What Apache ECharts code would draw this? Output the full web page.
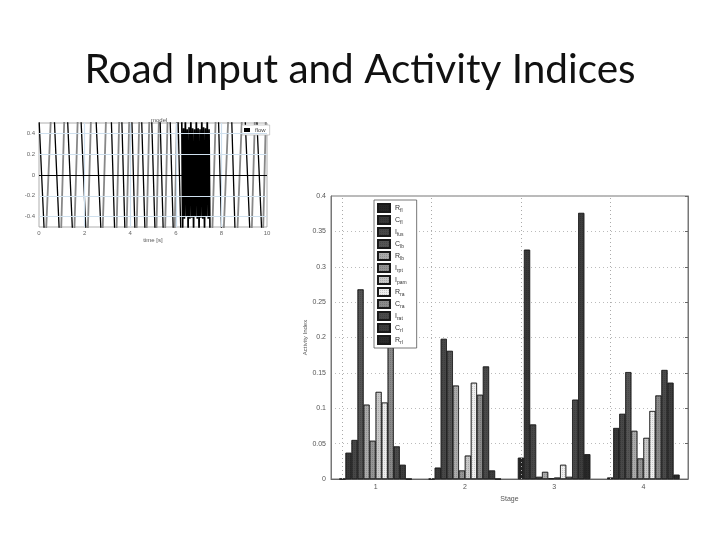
<!DOCTYPE html>
<html>
<head>
<meta charset="utf-8">
<script src="https://cdn.jsdelivr.net/npm/echarts@6/dist/echarts.min.js"></script>
<style>
html,body{margin:0;padding:0;background:#fff;}
#c{width:720px;height:540px;}
</style>
</head>
<body>
<div id="c"></div>
<script>
// ---------- Data: small "model" signal plot ----------
// descending (black) strokes: start/end times
const descStart = [0.00, 0.67, 1.25, 1.84, 2.50, 3.17, 3.63, 4.07, 4.50, 4.94, 5.31, 5.75, 6.10, 7.87, 8.45, 9.04, 9.55];
const descEnd   = [0.23, 0.89, 1.47, 2.06, 2.72, 3.32, 3.77, 4.21, 4.65, 5.09, 5.45, 5.89, 6.22, 8.01, 8.60, 9.25, 9.77];
// ascending (grey) strokes: start/end times
const ascStart  = [0.31, 0.97, 1.55, 2.14, 2.79, 3.40, 3.84, 4.28, 4.72, 5.15, 5.53, 5.95, 7.60, 8.10, 8.70, 9.33, 9.83];
const ascEnd    = [0.52, 1.11, 1.70, 2.28, 2.94, 3.52, 3.96, 4.40, 4.84, 5.26, 5.64, 6.05, 7.75, 8.30, 8.90, 9.47, 9.95];
const waveHigh = 0.55, waveLow = -0.55;
// dense high-frequency burst
const denseT = [6.26,6.30,6.34,6.38,6.42,6.46,6.50,6.54,6.58,6.62,6.66,6.70,6.74,6.78,6.82,6.86,6.90,6.94,6.98,7.02,7.06,7.10,7.14,7.18,7.22,7.26,7.30,7.34,7.38,7.42,7.46,7.50];
const denseV = [0.6,-0.6,0.45,-0.42,0.6,-0.4,0.44,-0.6,0.46,-0.42,0.6,-0.41,0.45,-0.6,0.44,-0.4,0.6,-0.42,0.45,-0.6,0.44,-0.41,0.6,-0.42,0.46,-0.6,0.45,-0.4,0.6,-0.42,0.44,-0.6];
const smallYTicks = ['-0.4','-0.2','0','0.2','0.4'];

// ---------- Data: Activity index bar chart ----------
const stages = ['1', '2', '3', '4'];
const elementNames = ['R_fl','C_fl','I_fus','C_lb','R_lb','I_rpt','I_pam','R_ra','C_ra','I_rat','C_rl','R_rl'];
const stage1 = [0, 0.037, 0.055, 0.268, 0.105, 0.054, 0.123, 0.108, 0.187, 0.046, 0.020, 0];
const stage2 = [0, 0.016, 0.198, 0.181, 0.132, 0.012, 0.033, 0.136, 0.119, 0.159, 0.012, 0];
const stage3 = [0.030, 0.324, 0.077, 0.003, 0.010, 0.001, 0.002, 0.020, 0.003, 0.112, 0.376, 0.035];
const stage4 = [0.002, 0.072, 0.092, 0.151, 0.068, 0.029, 0.058, 0.096, 0.118, 0.154, 0.136, 0.006];
const grays = ['#262626','#383838','#474747','#555555','#ababab','#959595','#c8c8c8','#eeeeee','#8a8a8a','#4a4a4a','#3d3d3d','#2a2a2a'];

const stageData = [stage1, stage2, stage3, stage4];

// build wave series
const blackData = [];
descStart.forEach((t, i) => { blackData.push([t, waveHigh], [descEnd[i], waveLow], [descEnd[i], '-']); });
const grayData = [];
ascStart.forEach((t, i) => { grayData.push([t, waveLow], [ascEnd[i], waveHigh], [ascEnd[i], '-']); });
const denseData = denseT.map((t, i) => [t, denseV[i]]);

const lightBlue = '#cfe0ee';
const barSeries = elementNames.map((n, k) => ({
  name: n,
  type: 'bar',
  xAxisIndex: 1, yAxisIndex: 1,
  data: stageData.map(s => s[k]),
  barGap: '0%',
  barCategoryGap: '19%',
  itemStyle: { color: grays[k], borderColor: '#1a1a1a', borderWidth: 0.6,
    decal: { symbol: 'rect', symbolSize: 1, dashArrayX: [1, 1], dashArrayY: [1, 1], color: 'rgba(0,0,0,0.15)' } },
  markLine: k === 0 ? {
    silent: true, symbol: 'none', label: { show: false },
    lineStyle: { color: '#aaa', type: [1, 3], width: 1 },
    data: stages.map(s => ({ xAxis: s }))
  } : undefined
}));

const chart = echarts.init(document.getElementById('c'), null, { renderer: 'canvas' });
chart.setOption({
  backgroundColor: '#fff',
  animation: false,
  title: [
    { text: 'Road Input and Activity Indices', left: 'center', top: 44,
      textStyle: { fontFamily: 'Lato', fontWeight: 'normal', fontSize: 40.5, color: '#111' } },
    { text: 'model', left: 146, top: 112,
      textStyle: { fontFamily: 'Liberation Sans', fontWeight: 'normal', fontSize: 6, color: '#555' } }
  ],
  legend: [
    { data: ['flow'], left: 242, top: 125, orient: 'vertical', itemWidth: 6, itemHeight: 4, icon: 'rect',
      padding: [2, 4, 2, 2], borderColor: '#aaa', borderWidth: 0.6, backgroundColor: '#fff',
      textStyle: { fontSize: 6, color: '#444', fontFamily: 'Liberation Sans' }, selectedMode: false },
    { data: elementNames, left: 374, top: 200, orient: 'vertical', itemWidth: 12, itemHeight: 8, icon: 'rect',
      itemGap: 2.0, padding: [3, 10, 3, 3], borderColor: '#555', borderWidth: 0.8, backgroundColor: '#fff',
      selectedMode: false,
      formatter: name => { const p = name.split('_'); return p[0] + '{s|' + p[1] + '}'; },
      textStyle: { fontSize: 7, color: '#333', lineHeight: 9, fontFamily: 'Liberation Sans',
        rich: { s: { fontSize: 5, color: '#333', padding: [5, 0, 0, 0], fontFamily: 'Liberation Sans' } } } }
  ],
  grid: [
    { left: 39, top: 123, width: 228, height: 104, show: true, borderColor: '#999', borderWidth: 0.8, backgroundColor: '#fff' },
    { left: 331, top: 196, width: 357, height: 283, show: true, borderColor: '#777', borderWidth: 1, backgroundColor: '#fff' }
  ],
  xAxis: [
    { type: 'value', gridIndex: 0, min: 0, max: 10, interval: 2,
      name: 'time [s]', nameLocation: 'middle', nameGap: 10,
      nameTextStyle: { fontSize: 6, color: '#555', fontFamily: 'Liberation Sans' },
      axisLine: { show: false }, axisTick: { show: false }, splitLine: { show: false },
      axisLabel: { fontSize: 6, color: '#666', margin: 3, fontFamily: 'Liberation Sans' } },
    { type: 'category', gridIndex: 1, data: stages,
      name: 'Stage', nameLocation: 'middle', nameGap: 14,
      nameTextStyle: { fontSize: 7, color: '#555', fontFamily: 'Liberation Sans' },
      axisLine: { lineStyle: { color: '#666' } },
      axisTick: { alignWithLabel: true, inside: true, length: 3, lineStyle: { color: '#666' } },
      splitLine: { show: false },
      axisLabel: { fontSize: 7, color: '#555', margin: 5, fontFamily: 'Liberation Sans' } }
  ],
  yAxis: [
    { type: 'value', gridIndex: 0, min: -0.5, max: 0.5,
      axisLine: { show: false }, splitLine: { show: false },
      axisTick: { show: false },
      axisLabel: { fontSize: 6, color: '#666', margin: 4, fontFamily: 'Liberation Sans',
        customValues: smallYTicks.map(Number),
        formatter: v => smallYTicks.find(s => Math.abs(Number(s) - v) < 1e-9) || '' } },
    { type: 'value', gridIndex: 1, min: 0, max: 0.4, interval: 0.05,
      name: 'Activity Index', nameLocation: 'middle', nameGap: 22,
      nameTextStyle: { fontSize: 6, color: '#555', fontFamily: 'Liberation Sans' },
      axisLine: { show: true, lineStyle: { color: '#777' } },
      axisTick: { inside: true, length: 3, lineStyle: { color: '#666' } },
      splitLine: { show: true, lineStyle: { color: '#bbb', type: [1, 3] } },
      axisLabel: { fontSize: 7, color: '#555', margin: 5, fontFamily: 'Liberation Sans',
        formatter: v => String(Math.round(v * 100) / 100) } },
    { type: 'value', gridIndex: 1, min: 0, max: 0.4, interval: 0.05, position: 'right',
      axisLine: { show: true, lineStyle: { color: '#777' } },
      axisTick: { show: true, inside: true, length: 3, lineStyle: { color: '#666' } },
      axisLabel: { show: false }, splitLine: { show: false } }
  ],
  series: [
    { name: 'grid', type: 'line', xAxisIndex: 0, yAxisIndex: 0, data: [], silent: true,
      markLine: { silent: true, symbol: 'none', label: { show: false }, animation: false,
        lineStyle: { color: lightBlue, type: 'solid', width: 1.2 },
        data: [{ yAxis: 0.4 }, { yAxis: 0.2 }, { yAxis: -0.2 }, { yAxis: -0.4 },
               { xAxis: 2 }, { xAxis: 4 }, { xAxis: 6 }, { xAxis: 8 }] } },
    { name: 'flow_up', type: 'line', xAxisIndex: 0, yAxisIndex: 0, data: grayData,
      showSymbol: false, connectNulls: false, clip: true, silent: true,
      lineStyle: { color: '#888', width: 1.8 }, itemStyle: { color: '#888' } },
    { name: 'flow', type: 'line', xAxisIndex: 0, yAxisIndex: 0, data: blackData,
      showSymbol: false, connectNulls: false, clip: true, silent: true,
      lineStyle: { color: '#000', width: 1.3 }, itemStyle: { color: '#000' },
      markLine: { silent: true, symbol: 'none', label: { show: false },
        lineStyle: { color: '#000', type: 'solid', width: 1.2 }, data: [{ yAxis: 0 }] } },
    { name: 'flow_burst', type: 'line', xAxisIndex: 0, yAxisIndex: 0, data: denseData,
      showSymbol: false, clip: true, silent: true,
      lineStyle: { color: '#000', width: 1.6 }, itemStyle: { color: '#000' } }
  ].concat(barSeries)
});
</script>
</body>
</html>
